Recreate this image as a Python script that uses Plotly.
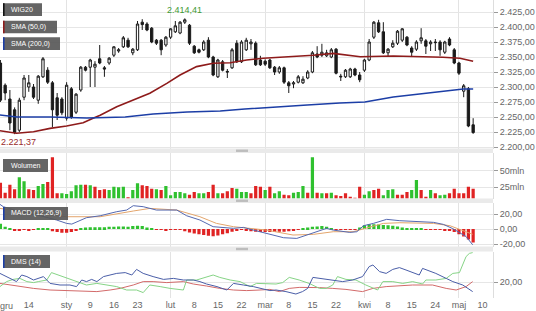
import plotly.graph_objects as go

# ---------------- data (trading-day index, 0 = 2 Jan 2019) ----------------
idx = list(range(-14, 87))
opens = [2340, 2303, 2280, 2262, 2228, 2283, 2300, 2300, 2278, 2317, 2328, 2307, 2282, 2280,
         2248, 2297, 2258, 2295, 2333, 2333, 2333, 2347, 2332, 2340, 2353, 2360, 2367, 2378,
         2357, 2362, 2408, 2405, 2398, 2378, 2378, 2370, 2383, 2392, 2390, 2408, 2403, 2368,
         2362, 2362, 2378, 2350, 2317, 2342, 2326, 2332, 2373, 2342, 2362, 2372, 2373, 2345,
         2343, 2345, 2333, 2325, 2332, 2307, 2305, 2308, 2307, 2315, 2325, 2355, 2353, 2352,
         2350, 2363, 2318, 2317, 2317, 2330, 2320, 2328, 2345, 2383, 2407, 2392, 2357, 2367,
         2373, 2378, 2383, 2365, 2363, 2377, 2377, 2372, 2375, 2375, 2358, 2380, 2362, 2340,
         2293, 2297, 2237]
highs = [2345, 2306, 2295, 2266, 2282, 2320, 2320, 2305, 2320, 2350, 2333, 2310, 2290, 2283,
         2308, 2300, 2290, 2335, 2335, 2347, 2343, 2370, 2335, 2350, 2368, 2365, 2385, 2382,
         2365, 2410, 2413, 2408, 2400, 2380, 2380, 2385, 2398, 2410, 2410, 2414.41, 2405, 2370,
         2364, 2378, 2383, 2352, 2347, 2345, 2330, 2365, 2378, 2378, 2382, 2380, 2376, 2352,
         2346, 2347, 2335, 2335, 2334, 2310, 2310, 2320, 2318, 2328, 2360, 2368, 2372, 2362,
         2365, 2365, 2322, 2330, 2332, 2332, 2325, 2347, 2380, 2410, 2412, 2408, 2365, 2378,
         2395, 2398, 2385, 2368, 2378, 2398, 2380, 2378, 2380, 2378, 2377, 2383, 2365, 2342,
         2305, 2300, 2248]
lows = [2275, 2278, 2228, 2221.37, 2225, 2278, 2292, 2280, 2272, 2315, 2305, 2233, 2245, 2253,
        2244, 2247, 2255, 2292, 2326, 2300, 2300, 2338, 2317, 2337, 2350, 2357, 2365, 2365,
        2353, 2360, 2395, 2393, 2373, 2370, 2353, 2367, 2380, 2390, 2388, 2405, 2370, 2355,
        2356, 2360, 2348, 2318, 2315, 2326, 2315, 2330, 2340, 2340, 2360, 2362, 2335, 2335,
        2335, 2330, 2320, 2322, 2305, 2290, 2298, 2306, 2305, 2313, 2323, 2348, 2350, 2350,
        2348, 2321, 2310, 2315, 2315, 2318, 2308, 2325, 2343, 2380, 2390, 2355, 2350, 2365,
        2370, 2375, 2368, 2350, 2360, 2372, 2355, 2360, 2360, 2352, 2355, 2368, 2338, 2320,
        2283, 2233, 2222]
closes = [2278, 2290, 2240, 2224, 2278, 2315, 2307, 2283, 2318, 2347, 2308, 2262, 2253, 2257,
          2303, 2250, 2288, 2333, 2328, 2345, 2338, 2340, 2330, 2348, 2367, 2362, 2382, 2367,
          2363, 2405, 2404, 2395, 2375, 2373, 2362, 2383, 2397, 2402, 2408, 2412, 2373, 2357,
          2358, 2375, 2350, 2320, 2345, 2328, 2325, 2362, 2342, 2375, 2378, 2375, 2337, 2337,
          2338, 2332, 2325, 2332, 2308, 2302, 2307, 2317, 2313, 2325, 2357, 2350, 2358, 2357,
          2362, 2323, 2317, 2328, 2330, 2320, 2312, 2345, 2375, 2408, 2392, 2357, 2363, 2373,
          2393, 2397, 2370, 2358, 2375, 2382, 2368, 2375, 2374, 2362, 2375, 2370, 2340, 2323,
          2302, 2235, 2224]

sma50_x = [-14.1, -10.6, -7.0, -3.5, 0, 3.5, 5.6, 7.1, 10.6, 14.1, 17.6, 21.2, 24, 27.5, 31,
           34.6, 38.1, 41.6, 45.1, 52.2, 56.4, 62.1, 69.1, 76.2, 79.6, 83.2, 86]
sma50_y = [2227, 2223, 2225.5, 2231, 2235, 2240.5, 2248, 2253, 2267, 2278, 2289.5, 2306, 2320,
           2334, 2339.5, 2340.5, 2345, 2348, 2349.5, 2353, 2356, 2350.5, 2351.7, 2350.5,
           2349.5, 2348, 2343]
sma200_x = [-14.1, -10.5, -3.5, 4.3, 12.4, 18.3, 25.5, 32.5, 37.7, 43.7, 50.9, 57.8, 63.1,
            69.1, 76.2, 83.9, 86]
sma200_y = [2253.3, 2250, 2250, 2248.3, 2250, 2255, 2258.3, 2260, 2263.3, 2266.7, 2270,
            2273.3, 2275, 2283.3, 2290, 2296.7, 2296.7]

volume = [32, 17, 29, 22, 40, 34, 22, 21, 27, 30,
          33, 70, 16, 16, 15, 19, 28, 29, 29, 28,
          26, 21, 22, 21, 26, 25, 26, 10, 21, 31,
          28, 27, 23, 22, 21, 27, 13, 18, 18, 16,
          14, 18, 16, 16, 18, 29, 16, 16, 19, 24,
          23, 18, 18, 16, 27, 26, 21, 26, 16, 19,
          14, 13, 17, 18, 27, 17, 70, 17, 16, 16,
          17, 13, 12, 16, 11, 9.5, 26, 14, 19, 21,
          23, 13, 21, 22, 14, 14, 18, 21, 36, 21,
          11, 21, 16, 13, 14, 16, 23, 16, 16, 26,
          23]
vol_dir = ["R", "R", "R", "R", "G", "G", "R", "R", "G", "G",
           "R", "R", "R", "G", "G", "G", "G", "G", "R", "G",
           "R", "R", "R", "G", "G", "G", "G", "R", "G", "G",
           "R", "R", "R", "G", "R", "G", "G", "G", "G", "G",
           "R", "R", "G", "G", "R", "R", "G", "R", "R", "R",
           "G", "G", "G", "R", "R", "R", "G", "R", "G", "G",
           "R", "R", "G", "G", "G", "R", "G", "R", "G", "R",
           "G", "R", "R", "R", "R", "R", "R", "G", "G", "R",
           "R", "G", "G", "G", "R", "R", "R", "G", "G", "R",
           "R", "G", "R", "G", "G", "R", "R", "R", "R", "R",
           "R"]

macd_x = [-14.1, -13.4, -9.9, -5.6, -2.1, 0, 1.1, 4.2, 7.1, 10.6, 12.7, 14.1, 16.2, 19.0, 23.3,
          25.4, 28.2, 31.0, 35.3, 37.4, 39.5, 42.3, 45.9, 48.7, 52.2, 55.0, 56.4, 59.9, 61.4,
          62.8, 64.9, 67.7, 70.5, 74.1, 77.6, 79.7, 81.7, 84.5, 85.9]
macd_y = [32.9, 29.8, 23.1, 17.8, 12, 7.5, 6.6, 15.1, 17.7, 23.1, 25.3, 31.1, 29.8, 25.3, 25.3,
          17.7, 12, 3.1, 0.9, 2.2, -1.4, -5.8, -11.6, -12.5, -4.5, 0.9, -1.4, -4.5, -3.6, 4.4,
          7.5, 12.9, 11.1, 9.8, 8.9, 6.2, 0.5, -10, -21]
signal_x = [-14.1, -7.0, 0, 7.1, 14.1, 17.6, 23.3, 28.2, 31.7, 35.3, 42.3, 47.9, 52.2, 56.4,
            60.6, 63.5, 67.0, 70.5, 77.6, 81.1, 83.9, 85.9]
signal_y = [27.5, 20.9, 16.4, 16.4, 24, 27.5, 25.3, 16.4, 7.5, 3.1, -1.4, -8, -7.1, -3.6, -3.6,
            1.8, 7.5, 8.4, 7.5, 4.4, -2, -7]
macd_hist = [7, 3, 0.5, -2, -2, -1, -1.5, -0.5, 0.5, 1, 1, -3, -4, -5, -5, -4, -1.5, 1, 2, 2.5,
             2.5, 2.5, 2.5, 3, 3, 3.5, 3.5, 3, 4, 4.5, 4, 2, 0.5, -1, -1, -1.5, -0.5, -0.5, -0.5,
             -3, -4.5, -6, -7, -8, -9, -9.5, -8.5, -7, -5.5, -3.5, -2, -1, -2, -3, -3.5, -4,
             -4, -4, -4, -3.5, -3.5, -3, -2, -0.5, 1, 2, 3, 3.5, 4, 3, 1.5, -0.5, -0.5, -1, -1,
             -0.5, 2, 5, 6.5, 6.5, 6, 5.5, 5, 4.5, 3.5, 2, 1, 0.5, 0.5, 0.3, -0.5, -0.8, -1, -1,
             -1.5, -2, -4, -7, -10, -14, -18]

dms_blue_x = [-14.1, -12.0, -10.6, -9.5, -8.4, -7.0, -4.9, -3.5, -1.4, 0.7, 2.1, 3.2, 4.2, 5.3,
              6.4, 7.8, 9.2, 10.6, 12.4, 13.8, 14.8, 16.2, 18.3, 20.5, 22.6, 24.7, 26.8, 28.2,
              29.6, 31.8, 33.9, 35.3, 37.4, 39.5, 43.0, 44.3, 46.4, 48.5, 49.9, 51.0, 52.1,
              53.5, 54.9, 56.3, 58.4, 60.5, 62.6, 64.0, 64.8, 66.2, 67.6, 69.0, 70.4, 71.8,
              73.2, 74.6, 75.3, 76.7, 78.1, 80.3, 81.7, 83.8, 85.9]
dms_blue_y = [24.3, 21.8, 20.2, 23.5, 22.7, 21, 22.7, 19.3, 18.5, 18.5, 17.7, 21, 20.2, 21.3,
              20.2, 22.7, 23.5, 24.3, 24.7, 23.5, 26.3, 24.3, 22.7, 21.3, 21.8, 21, 21, 20.2,
              19, 17.7, 16, 19.3, 18.5, 17.7, 15.7, 16, 15.2, 14, 15.2, 16.8, 22.3, 21.8, 21.3,
              20.7, 20.2, 21, 22.7, 27.7, 28.5, 25.2, 24.3, 26.3, 27.2, 26, 24.7, 23.5, 26.8,
              25.7, 24.3, 21.8, 20.2, 18.5, 15.2]
dms_green_x = [-14.1, -12.7, -11.3, -9.9, -8.4, -7.0, -6.0, -4.2, -3.2, -1.8, 0.0, 2.1, 4.2,
               6.4, 8.5, 10.6, 12.7, 14.8, 16.2, 17.6, 19.8, 21.9, 24.7, 25.4, 27.5, 29.6,
               31.0, 32.4, 34.6, 36.7, 38.8, 40.2, 43.0, 44.3, 45.7, 47.1, 49.2, 51.3, 53.5,
               54.9, 56.3, 57.3, 59.1, 61.2, 63.3, 65.8, 66.9, 69.0, 71.1, 73.2, 75.3, 76.0,
               78.1, 80.3, 81.7, 83.1, 84.5, 85.2, 85.9]
dms_green_y = [17.7, 20.2, 21.3, 21.8, 20.2, 19.7, 20.2, 21, 24.7, 23.5, 21.8, 20.2, 18.5, 19.3,
               18.5, 17.7, 16, 16, 14.7, 18.5, 17.7, 16.8, 16, 21, 21, 22.3, 23.5, 22.3, 21,
               20.2, 17.7, 19.3, 19, 19, 19.7, 22.3, 21, 19.3, 16.8, 16.8, 18.5, 22.7, 21.3, 21,
               18.5, 16, 20.2, 20.2, 19.3, 20.2, 19, 21, 21, 21.8, 24.3, 24.7, 32.7, 34.3, 34.7]
dms_red_x = [-14.1, -12.0, -9.9, -7.0, -3.5, 0.0, 3.5, 6.4, 9.2, 11.3, 14.1, 16.2, 18.3, 21.2,
             24.7, 26.8, 29.6, 32.4, 35.3, 38.1, 40.9, 43.0, 45.0, 47.1, 49.2, 51.3, 53.5,
             56.3, 59.1, 62.6, 64.8, 67.6, 70.4, 73.2, 77.4, 80.3, 82.4, 84.5, 85.9]
dms_red_y = [19.3, 18.5, 17.7, 16.8, 16, 15.7, 15.2, 15.2, 16, 16.8, 18.5, 20.2, 20.2, 19.7,
             20.2, 19, 18, 16.8, 16, 15.7, 16, 16.3, 15.2, 16.8, 17.3, 17.3, 17.2, 16.8, 16.3,
             15.2, 16.8, 17.7, 18, 18.5, 18.5, 16.8, 16, 17.7, 20.2]

first_tick_label = "gru"
tick_pos = [-8, 0, 5, 10, 15, 22, 27, 32, 37, 42, 47, 52, 57, 63, 68, 73, 78, 83, 88]
tick_txt = ["14", "sty", "9", "16", "23", "lut", "8", "15", "22", "mar", "8", "15", "22",
            "kwi", "8", "15", "24", "maj", "10"]
month_pos = [0, 22, 42, 63, 83]
price_ticks = [2200, 2225, 2250, 2275, 2300, 2325, 2350, 2375, 2400, 2425]
price_labels = ["2.200,00", "2.225,00", "2.250,00", "2.275,00", "2.300,00", "2.325,00",
                "2.350,00", "2.375,00", "2.400,00", "2.425,00"]
max_label = "2.414,41"
min_label = "2.221,37"

# ---------------- styling helpers ----------------
PW, PH = 493.0, 298.0
def px(x): return x / PW
def py(y): return (PH - y) / PH

GREEN = "#2fc12f"
RED = "#e02323"
FONT = "Liberation Sans, Arial, sans-serif"

fig = go.Figure()
fig.add_trace(go.Candlestick(
    x=idx, open=opens, high=highs, low=lows, close=closes,
    increasing=dict(line=dict(color="#1a1a1a", width=1), fillcolor="white"),
    decreasing=dict(line=dict(color="#1a1a1a", width=1), fillcolor="#1a1a1a"),
    whiskerwidth=0, xaxis="x", yaxis="y", hoverinfo="skip"))
fig.add_trace(go.Scatter(x=sma50_x, y=sma50_y, mode="lines",
                         line=dict(color="#8e1b1b", width=1.6), xaxis="x", yaxis="y"))
fig.add_trace(go.Scatter(x=sma200_x, y=sma200_y, mode="lines",
                         line=dict(color="#1c3ea6", width=1.6), xaxis="x", yaxis="y"))

fig.add_trace(go.Bar(x=idx, y=volume,
                     marker=dict(color=[GREEN if d == "G" else RED for d in vol_dir], line=dict(width=0)),
                     xaxis="x", yaxis="y2"))

fig.add_trace(go.Bar(x=idx, y=macd_hist,
                     marker=dict(color=[GREEN if v >= 0 else RED for v in macd_hist], line=dict(width=0)),
                     xaxis="x", yaxis="y3"))
fig.add_trace(go.Scatter(x=signal_x, y=signal_y, mode="lines",
                         line=dict(color="#e3a56c", width=1), xaxis="x", yaxis="y3"))
fig.add_trace(go.Scatter(x=macd_x, y=macd_y, mode="lines",
                         line=dict(color="#5468b0", width=1), xaxis="x", yaxis="y3"))

fig.add_trace(go.Scatter(x=dms_red_x, y=dms_red_y, mode="lines",
                         line=dict(color="#d36a6a", width=1), xaxis="x", yaxis="y4"))
fig.add_trace(go.Scatter(x=dms_green_x, y=dms_green_y, mode="lines",
                         line=dict(color="#86d486", width=1), xaxis="x", yaxis="y4"))
fig.add_trace(go.Scatter(x=dms_blue_x, y=dms_blue_y, mode="lines",
                         line=dict(color="#4a5ea8", width=1), xaxis="x", yaxis="y4"))

yax_common = dict(side="right", anchor="x", showgrid=True, gridcolor="#e6e6e6", gridwidth=1,
                  ticks="outside", ticklen=4, tickcolor="#9a9a9a", showline=True,
                  linecolor="#dddddd", zeroline=False, fixedrange=True,
                  tickfont=dict(family=FONT, size=9, color="#666666"))

fig.update_layout(
    width=536, height=311,
    margin=dict(l=0, r=43, t=0, b=13),
    paper_bgcolor="white", plot_bgcolor="white",
    showlegend=False, bargap=0.32,
    font=dict(family=FONT, size=9, color="#666666"),
    xaxis=dict(anchor="y4", range=[-14.09, 90.2], tickmode="array", tickvals=tick_pos,
               ticktext=tick_txt, ticks="", showgrid=False, zeroline=False, showline=False,
               rangeslider=dict(visible=False),
               tickfont=dict(family=FONT, size=9, color="#666666"),
               minor=dict(tickmode="array", tickvals=month_pos, showgrid=True,
                          gridcolor="#e3e3e3", gridwidth=1, ticks="")),
    yaxis=dict(domain=[py(148.5), 1], range=[2197.5, 2445], tickmode="array",
               tickvals=price_ticks, ticktext=price_labels, **yax_common),
    yaxis2=dict(domain=[py(198.5), py(153)], range=[8.25, 76.5], tickmode="array",
                tickvals=[25, 50], ticktext=["25mln", "50mln"], **yax_common),
    yaxis3=dict(domain=[py(246.5), py(203)], range=[-23.3, 34.7], tickmode="array",
                tickvals=[-20, 0, 20], ticktext=["-20,00", "0,00", "20,00"], **yax_common),
    yaxis4=dict(domain=[0, py(251.5)], range=[12, 35.25], tickmode="array",
                tickvals=[20], ticktext=["20,00"], **yax_common),
)

shapes = []
annots = []
# separator bands with grab handles
for y0, y1 in [(148.5, 153), (198.5, 203), (246.5, 251.5)]:
    shapes.append(dict(type="rect", xref="paper", yref="paper", x0=0, x1=1, y0=py(y1), y1=py(y0),
                       fillcolor="#eaeaea", line=dict(width=0), layer="above"))
    shapes.append(dict(type="rect", xref="paper", yref="paper", x0=px(236), x1=px(248),
                       y0=py((y0 + y1) / 2 + 1.2), y1=py((y0 + y1) / 2 - 1.2),
                       fillcolor="#bdbdbd", line=dict(width=0), layer="above"))

# indicator name boxes
boxes = [("WIG20", 3, 42, 3.3, 16, "#111111"),
         ("SMA (50,0)", 3, 57, 20.7, 33.3, "#8e1b1b"),
         ("SMA (200,0)", 3, 60, 37.3, 50, "#1c3ea6"),
         ("Wolumen", 3, 48, 159, 172, None),
         ("MACD (12,26,9)", 3, 68, 207, 220, "#1c3ea6"),
         ("DMS (14)", 3, 50, 255, 268, "#1c3ea6")]
for txt, x0, x1, y0, y1, stripe in boxes:
    shapes.append(dict(type="rect", xref="paper", yref="paper", x0=px(x0), x1=px(x1),
                       y0=py(y1), y1=py(y0), fillcolor="rgba(88,88,88,0.92)",
                       line=dict(width=0), layer="above"))
    if stripe:
        shapes.append(dict(type="rect", xref="paper", yref="paper", x0=px(x0), x1=px(x0 + 1.6),
                           y0=py(y1), y1=py(y0), fillcolor=stripe, line=dict(width=0),
                           layer="above"))
    annots.append(dict(text=txt, xref="paper", yref="paper", x=px(x0 + 6), y=py((y0 + y1) / 2),
                       xanchor="left", yanchor="middle", showarrow=False,
                       font=dict(family=FONT, size=7, color="white")))

# max / min labels
annots.append(dict(text=max_label, x=25, y=2414.41, xref="x", yref="y", xanchor="center",
                   yanchor="bottom", yshift=1, showarrow=False,
                   font=dict(family=FONT, size=9, color="#3f9a35")))
annots.append(dict(text=min_label, x=0, y=2221.37, xref="paper", yref="y", xanchor="left",
                   yanchor="top", yshift=-1, xshift=-1, showarrow=False,
                   font=dict(family=FONT, size=9, color="#9a2a2a")))
# first (partly hidden) month label at the left edge
annots.append(dict(text=first_tick_label, x=0, y=0, xref="paper", yref="paper", xanchor="left",
                   yanchor="top", yshift=-1, xshift=-2, showarrow=False,
                   font=dict(family=FONT, size=9, color="#666666")))

fig.update_layout(shapes=shapes, annotations=annots)
fig.write_html("out.html")
